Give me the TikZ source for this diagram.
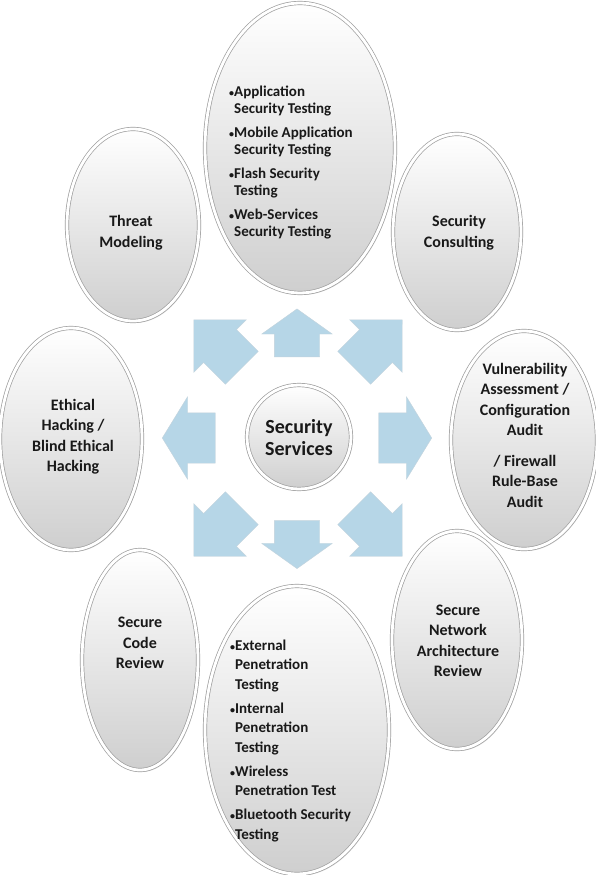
\documentclass[tikz,border=0pt]{standalone}
\usepackage{fontspec}
\setmainfont{Carlito}
\usetikzlibrary{shapes.geometric,shapes.arrows,shadows}
\definecolor{azulflecha}{RGB}{182,214,231}
\newcommand{\vineta}{{\fontsize{10}{10}\selectfont\textbullet}}
\begin{document}
\begin{tikzpicture}[x=1pt,y=-1pt,
 burbuja/.style={ellipse,draw=black!38,double=white,double distance=2.8pt,line width=0.7pt,top color=white,middle color=black!4,bottom color=black!19,inner sep=0pt,drop shadow={opacity=0.25,shadow xshift=1.5pt,shadow yshift=-2pt}},
 texto/.style={align=center,inner sep=0pt,text=black!90,font=\bfseries\fontsize{16}{20.5}\selectfont},
 lista/.style={align=left,anchor=west,inner sep=0pt,text=black!90,font=\bfseries\fontsize{15}{17.5}\selectfont},
 flecha/.style={single arrow,fill=azulflecha,draw=azulflecha!85!black!60,line width=0.4pt,inner xsep=0pt},
 flechah/.style={flecha,minimum height=53pt,inner ysep=25pt,single arrow head extend=16pt,single arrow tip angle=117},
 flechav/.style={flecha,minimum height=48pt,inner ysep=22.5pt,single arrow head extend=12.5pt,single arrow tip angle=109},
 flechad/.style={flecha,minimum height=68pt,inner ysep=23pt,single arrow head extend=14pt,single arrow tip angle=90}]
\useasboundingbox (0,0) rectangle (595,875);
\fill[white] (0,0) rectangle (595,875);
% burbujas de fondo
\node[burbuja,minimum width=132pt,minimum height=192pt] (amenazas) at (133,225) {};
\node[burbuja,minimum width=128pt,minimum height=196pt] (consultoria) at (457,232) {};
\node[burbuja,minimum width=116pt,minimum height=220pt] (codigo) at (140,660) {};
\node[burbuja,minimum width=130pt,minimum height=218pt] (red) at (457,640) {};
\node[burbuja,minimum width=142pt,minimum height=222pt] (etico) at (71,439) {};
\node[burbuja,minimum width=146pt,minimum height=218pt] (vulnerab) at (524,440) {};
\node[burbuja,minimum width=190pt,minimum height=290pt] (aplicacion) at (300,148) {};
\node[burbuja,minimum width=184pt,minimum height=288pt] (pentest) at (297,730) {};
% textos
\node[texto] (amenazas-t) at (131,232.5) {Threat\\Modeling};
\node[texto] (consultoria-t) at (459,232.5) {Security\\Consulting};
\node[texto] (codigo-t) at (140,643) {Secure\\Code\\Review};
\node[texto] (red-t) at (458,641) {Secure\\Network\\Architecture\\Review};
\node[texto] (etico-t) at (73,436.5) {Ethical\\Hacking /\\Blind Ethical\\Hacking};
\node[texto] (vulnerab-t) at (525,435) {Vulnerability\\Assessment /\\Configuration\\Audit\\[10pt]/ Firewall\\Rule-Base\\Audit};
\node[lista] (aplicacion-t) at (229,162.5) {\vineta Application\\\phantom{\vineta}Security Testing\\[6pt]\vineta Mobile Application\\\phantom{\vineta}Security Testing\\[6pt]\vineta Flash Security\\\phantom{\vineta}Testing\\[6pt]\vineta Web-Services\\\phantom{\vineta}Security Testing};
\node[lista,font=\bfseries\fontsize{15}{19.5}\selectfont] (pentest-t) at (230,740.5) {\vineta External\\\phantom{\vineta}Penetration\\\phantom{\vineta}Testing\\[4.5pt]\vineta Internal\\\phantom{\vineta}Penetration\\\phantom{\vineta}Testing\\[4.5pt]\vineta Wireless\\\phantom{\vineta}Penetration Test\\[4.5pt]\vineta Bluetooth Security\\\phantom{\vineta}Testing};
% flechas
\node[flechav,rotate=90] (f-n) at (297,341) {};
\node[flechav,rotate=270] (f-s) at (297,536.5) {};
\node[flechah,rotate=180] (f-o) at (196.5,438) {};
\node[flechah] (f-e) at (397.5,438) {};
\node[flechad,rotate=135] (f-no) at (226,352) {};
\node[flechad,rotate=45] (f-ne) at (370,352) {};
\node[flechad,rotate=225] (f-so) at (226,524) {};
\node[flechad,rotate=315] (f-se) at (370,524) {};
% centro
\node[burbuja,circle,minimum size=104pt] (centro) at (299,437) {};
\node[texto,font=\bfseries\fontsize{20}{22}\selectfont] (centro-t) at (299,438) {Security\\Services};
\end{tikzpicture}
\end{document}
